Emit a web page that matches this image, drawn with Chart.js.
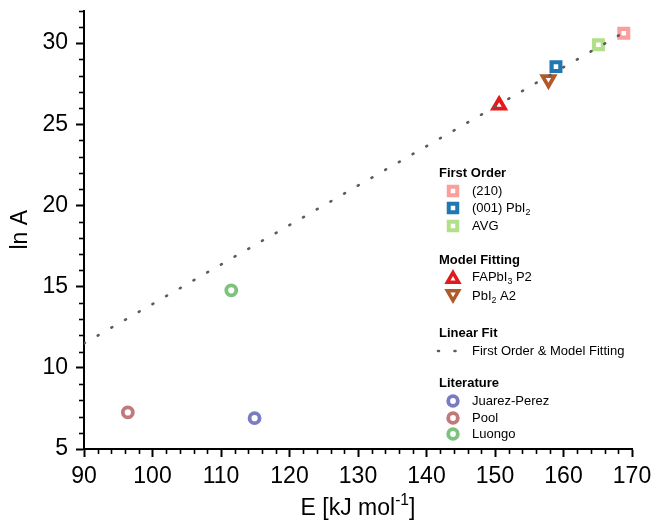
<!DOCTYPE html>
<html>
<head>
<meta charset="utf-8">
<script src="https://cdn.jsdelivr.net/npm/chart.js@4/dist/chart.umd.min.js"></script>
<style>
  body { margin: 0; background: #fff; }
  canvas { display: block; }
</style>
</head>
<body>
<canvas id="chart" width="653" height="526"></canvas>
<script>
// Data
const firstOrderLabels = ['(210)', '(001) PbI2', 'AVG'];
const firstOrderE = [168.8, 158.9, 165.1];
const firstOrderLnA = [30.6, 28.55, 29.9];

const modelLabels = ['FAPbI3 P2', 'PbI2 A2'];
const modelE = [150.6, 157.8];
const modelLnA = [26.17, 27.75];

const litLabels = ['Juarez-Perez', 'Pool', 'Luongo'];
const litE = [114.9, 96.4, 111.5];
const litLnA = [6.9, 7.25, 14.77];

const fitE = [90, 168.6];
const fitLnA = [11.5, 30.6];

const xTicksMajor = [90, 100, 110, 120, 130, 140, 150, 160, 170];
const yTicksMajor = [5, 10, 15, 20, 25, 30];

const FONT = "'Liberation Sans', Arial, Helvetica, sans-serif";

const firstOrderColors = ['#f99f9e', '#1f78b4', '#b2df8a'];
const modelColors = ['#e31a1c', '#b15928'];
const litColors = ['#7b7bc1', '#bf7a7a', '#7dc27d'];

function pts(xs, ys) {
    return xs.map((x, i) => ({ x: x, y: ys[i] }));
}

let datasets = [];

// linear fit line (drawn on top)
datasets.push({
    label: 'First Order & Model Fitting',
    data: pts(fitE, fitLnA),
    showLine: true,
    borderColor: '#5c5c5c',
    borderWidth: 2.6,
    borderDash: [1, 14.8],
    borderCapStyle: 'round',
    pointRadius: 0,
    order: 0
});

firstOrderLabels.forEach((name, i) => {
    datasets.push({
        label: name,
        data: [{ x: firstOrderE[i], y: firstOrderLnA[i] }],
        pointStyle: 'rect',
        pointRadius: 6.2,
        pointBorderWidth: 4.2,
        borderColor: firstOrderColors[i],
        backgroundColor: '#fff',
        order: 1
    });
});

modelLabels.forEach((name, i) => {
    datasets.push({
        label: name,
        data: [{ x: modelE[i], y: modelLnA[i] }],
        pointStyle: 'triangle',
        pointRotation: i === 0 ? 0 : 180,
        pointRadius: 6.8,
        pointBorderWidth: 3.8,
        borderColor: modelColors[i],
        backgroundColor: '#fff',
        order: 1
    });
});

litLabels.forEach((name, i) => {
    datasets.push({
        label: name,
        data: [{ x: litE[i], y: litLnA[i] }],
        pointStyle: 'circle',
        pointRadius: 5,
        pointBorderWidth: 3.8,
        borderColor: litColors[i],
        backgroundColor: '#fff',
        order: 1
    });
});

// draw text with sub/superscript parts: [text, mode] mode: 0 normal, 1 sub, -1 sup
function drawRich(ctx, parts, x, y, size, bold, align) {
    const weight = bold ? 'bold ' : '';
    let total = 0;
    parts.forEach(p => {
        ctx.font = weight + (p[1] ? size * 0.68 : size) + 'px ' + FONT;
        total += ctx.measureText(p[0]).width;
    });
    let cx = align === 'center' ? x - total / 2 : x;
    ctx.textAlign = 'left';
    ctx.textBaseline = 'middle';
    parts.forEach(p => {
        ctx.font = weight + (p[1] ? size * 0.68 : size) + 'px ' + FONT;
        let dy = p[1] === 1 ? size * 0.32 : (p[1] === -1 ? -size * 0.36 : 0);
        ctx.fillText(p[0], cx, y + dy);
        cx += ctx.measureText(p[0]).width;
    });
}

function legendMarker(ctx, style, color, x, y, radius, bw, rotation) {
    ctx.fillStyle = '#fff';
    ctx.strokeStyle = color;
    ctx.lineWidth = bw;
    if (Chart.helpers && Chart.helpers.drawPoint) {
        Chart.helpers.drawPoint(ctx, { pointStyle: style, radius: radius, rotation: rotation || 0, borderWidth: bw }, x, y);
    }
}

const decorPlugin = {
    id: 'decor',
    afterDraw(chart) {
        const ctx = chart.ctx;
        const xs = chart.scales.x, ys = chart.scales.y;
        const area = chart.chartArea;
        ctx.save();

        // minor ticks
        ctx.strokeStyle = '#000';
        ctx.lineWidth = 1.6;
        for (let v = 90; v <= 170; v += 2) {
            if (xTicksMajor.includes(v)) continue;
            const px = Math.round(xs.getPixelForValue(v)) + 0.5;
            ctx.beginPath();
            ctx.moveTo(px, area.bottom);
            ctx.lineTo(px, area.bottom + 5);
            ctx.stroke();
        }
        for (let v = 5; v <= 32; v += 1) {
            if (yTicksMajor.includes(v)) continue;
            const py = Math.round(ys.getPixelForValue(v)) + 0.5;
            ctx.beginPath();
            ctx.moveTo(area.left, py);
            ctx.lineTo(area.left - 5, py);
            ctx.stroke();
        }

        // axis titles
        ctx.fillStyle = '#000';
        drawRich(ctx, [['E [kJ mol', 0], ['-1', -1], [']', 0]], (area.left + area.right) / 2, 509, 23, false, 'center');
        ctx.save();
        ctx.translate(21, (area.top + area.bottom) / 2);
        ctx.rotate(-Math.PI / 2);
        drawRich(ctx, [['ln A', 0]], 0, 0, 23, false, 'center');
        ctx.restore();

        // legend
        const hx = 439, mx = 453, tx = 472, fs = 13;
        ctx.fillStyle = '#000';
        drawRich(ctx, [['First Order', 0]], hx, 173, fs, true);
        legendMarker(ctx, 'rect', firstOrderColors[0], mx, 191, 6, 4);
        legendMarker(ctx, 'rect', firstOrderColors[1], mx, 208, 6, 4);
        legendMarker(ctx, 'rect', firstOrderColors[2], mx, 226, 6, 4);
        ctx.fillStyle = '#000';
        drawRich(ctx, [['(210)', 0]], tx, 191, fs);
        drawRich(ctx, [['(001) PbI', 0], ['2', 1]], tx, 208, fs);
        drawRich(ctx, [['AVG', 0]], tx, 226, fs);

        drawRich(ctx, [['Model Fitting', 0]], hx, 260, fs, true);
        legendMarker(ctx, 'triangle', modelColors[0], mx, 279, 6.5, 3.5, 0);
        legendMarker(ctx, 'triangle', modelColors[1], mx, 294, 6.5, 3.5, 180);
        ctx.fillStyle = '#000';
        drawRich(ctx, [['FAPbI', 0], ['3', 1], [' P2', 0]], tx, 277, fs);
        drawRich(ctx, [['PbI', 0], ['2', 1], [' A2', 0]], tx, 296, fs);

        drawRich(ctx, [['Linear Fit', 0]], hx, 333, fs, true);
        ctx.strokeStyle = '#5c5c5c';
        ctx.lineWidth = 2.6;
        ctx.lineCap = 'round';
        ctx.setLineDash([1, 15.5]);
        ctx.beginPath();
        ctx.moveTo(438, 351);
        ctx.lineTo(458, 351);
        ctx.stroke();
        ctx.setLineDash([]);
        ctx.fillStyle = '#000';
        drawRich(ctx, [['First Order & Model Fitting', 0]], tx, 351, fs);

        drawRich(ctx, [['Literature', 0]], hx, 383, fs, true);
        legendMarker(ctx, 'circle', litColors[0], mx, 401, 4.8, 3.8);
        legendMarker(ctx, 'circle', litColors[1], mx, 418, 4.8, 3.8);
        legendMarker(ctx, 'circle', litColors[2], mx, 434, 4.8, 3.8);
        ctx.fillStyle = '#000';
        drawRich(ctx, [[litLabels[0], 0]], tx, 401, fs);
        drawRich(ctx, [[litLabels[1], 0]], tx, 418, fs);
        drawRich(ctx, [[litLabels[2], 0]], tx, 434, fs);

        ctx.restore();
    }
};

function majorColor(majors) {
    return c => (c.tick && majors.includes(Math.round(c.tick.value * 1000) / 1000)) ? '#000' : 'rgba(0,0,0,0)';
}

new Chart(document.getElementById('chart'), {
    type: 'scatter',
    data: { datasets: datasets },
    options: {
        responsive: false,
        animation: false,
        devicePixelRatio: 1,
        layout: { padding: { top: 9, right: 21, left: 0, bottom: 0 } },
        plugins: {
            legend: { display: false },
            tooltip: { enabled: false }
        },
        scales: {
            x: {
                type: 'linear',
                position: 'bottom',
                min: 90,
                max: 170,
                ticks: {
                    stepSize: 2,
                    autoSkip: false,
                    maxRotation: 0,
                    padding: 6,
                    color: '#000',
                    font: { family: FONT, size: 23 },
                    callback: v => xTicksMajor.includes(v) ? String(v) : ''
                },
                grid: {
                    drawOnChartArea: false,
                    tickLength: 8,
                    tickWidth: 2,
                    tickColor: majorColor(xTicksMajor)
                },
                border: { display: true, color: '#000', width: 2 },
                afterFit: s => { s.height = 77; s.paddingLeft = 0; s.paddingRight = 0; }
            },
            y: {
                type: 'linear',
                min: 5,
                max: 32,
                ticks: {
                    stepSize: 1,
                    autoSkip: false,
                    padding: 8,
                    color: '#000',
                    font: { family: FONT, size: 23 },
                    callback: v => yTicksMajor.includes(v) ? String(v) : ''
                },
                grid: {
                    drawOnChartArea: false,
                    tickLength: 8,
                    tickWidth: 2,
                    tickColor: majorColor(yTicksMajor)
                },
                border: { display: true, color: '#000', width: 2 },
                afterFit: s => { s.width = 84; s.paddingTop = 0; s.paddingBottom = 0; }
            }
        }
    },
    plugins: [decorPlugin]
});
</script>
</body>
</html>
